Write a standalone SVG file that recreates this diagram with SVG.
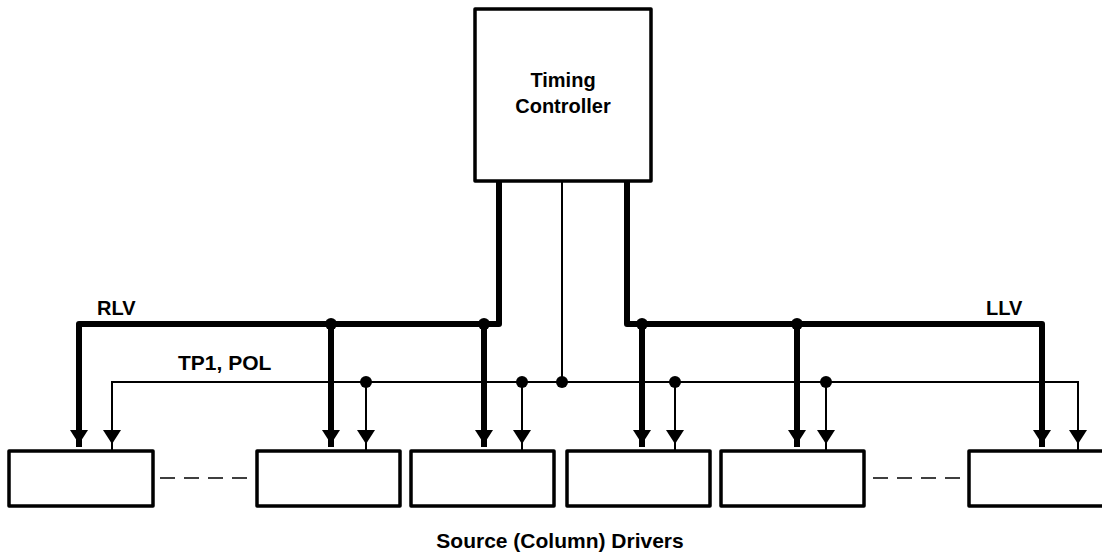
<svg xmlns="http://www.w3.org/2000/svg" width="1102" height="553" viewBox="0 0 1102 553">
<style>
.box{fill:#fff;stroke:#000;stroke-width:3.5;stroke-linejoin:round}
.thick{fill:none;stroke:#000;stroke-width:6;stroke-linejoin:round}
.thin{fill:none;stroke:#000;stroke-width:2}
.dash{fill:none;stroke:#000;stroke-width:1.5;stroke-dasharray:15 9}
.lbl{font-family:"Liberation Sans",Arial,sans-serif;font-weight:bold;font-size:20px;fill:#000}
.big{font-size:21px}
.dot{fill:#000}
.ah{fill:#000}
</style>
<defs>
<polygon id="arr" class="ah" points="-9,-14 9,-14 0,0"/>
</defs>
<rect width="1102" height="553" fill="#fff"/>
<g id="connectors">
<path class="thick" d="M499,181 V324 H79 V447"/>
<path class="thick" d="M627,181 V324 H1042 V447"/>
<path class="thick" d="M331,324 V447 M484,324 V447 M642,324 V447 M797,324 V447"/>
<path class="thin" d="M562,181 V382"/>
<path class="thin" d="M112,451 V382 H1078 V451"/>
<path class="thin" d="M366,382 V451 M522,382 V451 M675,382 V451 M826,382 V451"/>
<circle class="dot" cx="331" cy="324" r="6"/>
<circle class="dot" cx="484" cy="324" r="6"/>
<circle class="dot" cx="642" cy="324" r="6"/>
<circle class="dot" cx="797" cy="324" r="6"/>
<circle class="dot" cx="366" cy="382" r="6"/>
<circle class="dot" cx="522" cy="382" r="6"/>
<circle class="dot" cx="562" cy="382" r="6"/>
<circle class="dot" cx="675" cy="382" r="6"/>
<circle class="dot" cx="826" cy="382" r="6"/>
<use href="#arr" x="79" y="444"/>
<use href="#arr" x="112" y="444"/>
<use href="#arr" x="331" y="444"/>
<use href="#arr" x="366" y="444"/>
<use href="#arr" x="484" y="444"/>
<use href="#arr" x="522" y="444"/>
<use href="#arr" x="642" y="444"/>
<use href="#arr" x="675" y="444"/>
<use href="#arr" x="797" y="444"/>
<use href="#arr" x="826" y="444"/>
<use href="#arr" x="1042" y="444"/>
<use href="#arr" x="1078" y="444"/>
<path class="dash" d="M160,478 H255"/>
<path class="dash" d="M873,478 H968"/>
<text class="lbl" x="97" y="315">RLV</text>
<text class="lbl" x="986" y="315">LLV</text>
<text class="lbl big" x="178" y="370">TP1, POL</text>
</g>
<g id="timing-controller">
<rect class="box" x="475" y="9" width="176" height="172"/>
<text class="lbl" x="563" y="87" text-anchor="middle">Timing</text>
<text class="lbl" x="563" y="113" text-anchor="middle">Controller</text>
</g>
<g id="driver1"><rect class="box" x="9" y="451" width="144" height="55"/></g>
<g id="driver2"><rect class="box" x="257" y="451" width="143" height="55"/></g>
<g id="driver3"><rect class="box" x="411" y="451" width="143" height="55"/></g>
<g id="driver4"><rect class="box" x="567" y="451" width="143" height="55"/></g>
<g id="driver5"><rect class="box" x="721" y="451" width="143" height="55"/></g>
<g id="driver6"><rect class="box" x="969" y="451" width="144" height="55"/></g>
<g id="caption"><text class="lbl big" x="560" y="548" text-anchor="middle">Source (Column) Drivers</text></g>
</svg>
